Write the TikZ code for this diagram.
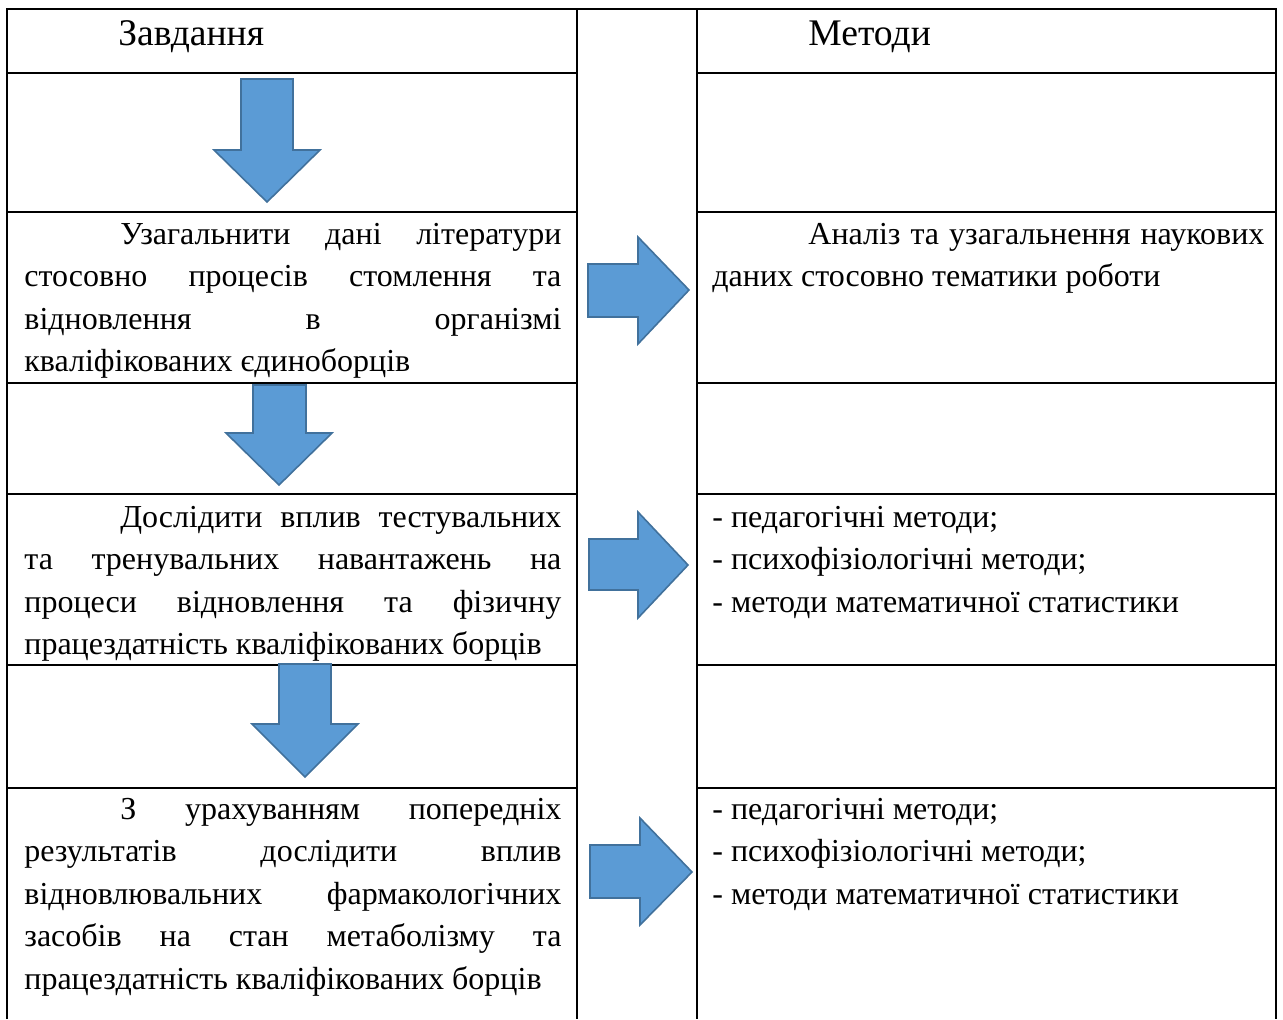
\documentclass[tikz,border=0pt]{standalone}
\usepackage{fontspec}
\setmainfont{Liberation Serif}
\usepackage{tikz}
\definecolor{arrowfill}{RGB}{91,155,213}
\definecolor{arrowline}{RGB}{65,113,156}
\newcommand{\cellfont}{\fontsize{16}{21.3}\selectfont}
\newcommand{\headfont}{\fontsize{18.8}{22}\selectfont}
\hbadness=10000
\tolerance=10000
\hyphenpenalty=10000
\tikzset{
  gridline/.style={
    draw=black,
    line width=1.1pt
  },
  block arrow/.style={
    fill=arrowfill,
    draw=arrowline,
    line width=0.8pt
  },
  head text/.style={
    anchor=base west,
    inner sep=0pt,
    font=\headfont
  },
  cell text/.style={
    anchor=base west,
    inner sep=0pt,
    align=justify,
    font=\cellfont
  },
  task text/.style={cell text, text width=268.5pt},
  method text/.style={cell text, text width=276pt}
}

\begin{document}
\begin{tikzpicture}[x=0.5pt,y=-0.5pt]
  \useasboundingbox (0,0) rectangle (1283,1019);

  % Table frame
  \draw[gridline] (7,1019) -- (7,9) -- (1276,9) -- (1276,1019);
  \draw[gridline] (577,9) -- (577,1019);
  \draw[gridline] (697,9) -- (697,1019);

  % Row borders
  \draw[gridline] (7,73) -- (577,73) (697,73) -- (1276,73);
  \draw[gridline] (7,212) -- (577,212) (697,212) -- (1276,212);
  \draw[gridline] (7,383) -- (577,383) (697,383) -- (1276,383);
  \draw[gridline] (7,494) -- (577,494) (697,494) -- (1276,494);
  \draw[gridline] (7,665) -- (577,665) (697,665) -- (1276,665);
  \draw[gridline] (7,788) -- (577,788) (697,788) -- (1276,788);

  % Headers
  \node[head text] (taskhead) at (118,45) {Завдання};
  \node[head text] (methodhead) at (808,45) {Методи};

  % Tasks
  \node[task text] (task1) at (24,244) {\hspace*{48pt}Узагальнити дані літератури\linebreak
    стосовно процесів стомлення та\linebreak
    відновлення в організмі\linebreak
    кваліфікованих єдиноборців};
  \node[task text] (task2) at (24,527) {\hspace*{48pt}Дослідити вплив тестувальних\linebreak
    та тренувальних навантажень на\linebreak
    процеси відновлення та фізичну\linebreak
    працездатність кваліфікованих борців};
  \node[task text] (task3) at (24,819) {\hspace*{48pt}З урахуванням попередніх\linebreak
    результатів дослідити вплив\linebreak
    відновлювальних фармакологічних\linebreak
    засобів на стан метаболізму та\linebreak
    працездатність кваліфікованих борців};

  % Methods
  \node[method text] (method1) at (712,244) {\hspace*{48pt}Аналіз та узагальнення наукових\linebreak
    даних стосовно тематики роботи};
  \node[method text] (method2) at (712,527) {- педагогічні методи;\\
    - психофізіологічні методи;\\
    - методи математичної статистики};
  \node[method text] (method3) at (712,819) {- педагогічні методи;\\
    - психофізіологічні методи;\\
    - методи математичної статистики};

  % Down arrows
  \draw[block arrow] (241,79) -- (293,79) -- (293,150) -- (320,150) -- (267,202)
    -- (214,150) -- (241,150) -- cycle;
  \draw[block arrow] (253,385) -- (306,385) -- (306,433) -- (332,433) -- (279,485)
    -- (226,433) -- (253,433) -- cycle;
  \draw[block arrow] (279,664) -- (331,664) -- (331,724) -- (358,724) -- (305,777)
    -- (252,724) -- (279,724) -- cycle;

  % Right arrows
  \draw[block arrow] (588,264) -- (638,264) -- (638,237) -- (689,290) -- (638,344)
    -- (638,317) -- (588,317) -- cycle;
  \draw[block arrow] (589,539) -- (638,539) -- (638,512) -- (688,565) -- (638,618)
    -- (638,590) -- (589,590) -- cycle;
  \draw[block arrow] (590,845) -- (640,845) -- (640,818) -- (692,872) -- (640,925)
    -- (640,898) -- (590,898) -- cycle;
\end{tikzpicture}
\end{document}
